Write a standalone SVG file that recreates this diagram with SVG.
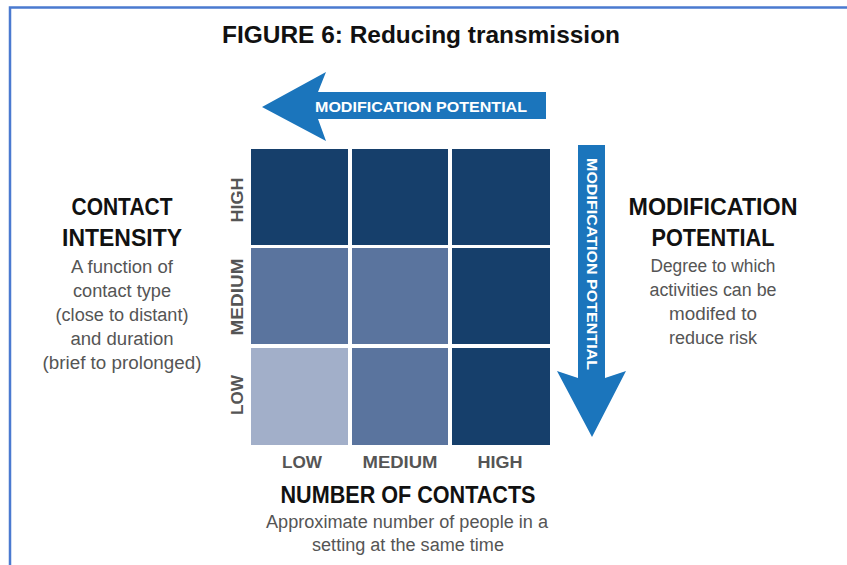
<svg xmlns="http://www.w3.org/2000/svg" width="847" height="565" viewBox="0 0 847 565">
<style>
.h{font-family:"Liberation Sans",Arial,sans-serif;font-weight:bold;fill:#111;text-anchor:middle}
.s{font-family:"Liberation Sans",Arial,sans-serif;fill:#555;text-anchor:middle;font-size:18px}
.ax{font-family:"Liberation Sans",Arial,sans-serif;font-weight:bold;fill:#555;text-anchor:middle;font-size:16px}
.ar{font-family:"Liberation Sans",Arial,sans-serif;font-weight:bold;fill:#fff;text-anchor:middle;font-size:14px}
.dk{fill:#163f6b}.md{fill:#5a749e}.lt{fill:#a2afc9}
.arrow{fill:#1b75bc}
</style>
<rect width="847" height="565" fill="#fff"/>
<g id="frame" fill="none" stroke="#4a7ad0" stroke-width="2.5">
<path d="M10,565 V7.5 H847"/>
</g>
<g id="title"><text class="h" x="421" y="43" font-size="24" textLength="398" lengthAdjust="spacingAndGlyphs">FIGURE 6: Reducing transmission</text></g>
<g id="connectors">
<g id="arrow-left">
<path class="arrow" d="M262,107 L326,72 L318,92 L546,92 L546,119 L318,119 L326,141 Z"/>
<text class="ar" x="421" y="112" textLength="212" lengthAdjust="spacingAndGlyphs">MODIFICATION POTENTIAL</text>
</g>
<g id="arrow-down">
<path class="arrow" d="M578,145 L605,145 L605,378 L626,371 L592,437 L557,371 L578,378 Z"/>
<text class="ar" transform="translate(591.5,264) rotate(90)" x="0" y="5" textLength="212" lengthAdjust="spacingAndGlyphs">MODIFICATION POTENTIAL</text>
</g>
</g>
<g id="grid">
<rect class="dk" x="251" y="149" width="97" height="96"/>
<rect class="dk" x="352" y="149" width="96" height="96"/>
<rect class="dk" x="452" y="149" width="98" height="96"/>
<rect class="md" x="251" y="248" width="97" height="96"/>
<rect class="md" x="352" y="248" width="96" height="96"/>
<rect class="dk" x="452" y="248" width="98" height="96"/>
<rect class="lt" x="251" y="348" width="97" height="97"/>
<rect class="md" x="352" y="348" width="96" height="97"/>
<rect class="dk" x="452" y="348" width="98" height="97"/>
</g>
<g id="row-labels">
<text class="ax" transform="translate(243,200) rotate(-90)" textLength="45" lengthAdjust="spacingAndGlyphs">HIGH</text>
<text class="ax" transform="translate(243,297) rotate(-90)" textLength="77" lengthAdjust="spacingAndGlyphs">MEDIUM</text>
<text class="ax" transform="translate(243,395) rotate(-90)" textLength="40" lengthAdjust="spacingAndGlyphs">LOW</text>
</g>
<g id="col-labels">
<text class="ax" x="302" y="468" textLength="40" lengthAdjust="spacingAndGlyphs">LOW</text>
<text class="ax" x="400" y="468" textLength="75" lengthAdjust="spacingAndGlyphs">MEDIUM</text>
<text class="ax" x="500" y="468" textLength="45" lengthAdjust="spacingAndGlyphs">HIGH</text>
</g>
<g id="contact-intensity">
<text class="h" x="122" y="215" font-size="24" textLength="101" lengthAdjust="spacingAndGlyphs">CONTACT</text>
<text class="h" x="122" y="246" font-size="24" textLength="120" lengthAdjust="spacingAndGlyphs">INTENSITY</text>
<text class="s" x="122" y="273" textLength="102" lengthAdjust="spacingAndGlyphs">A function of</text>
<text class="s" x="122" y="297" textLength="98" lengthAdjust="spacingAndGlyphs">contact type</text>
<text class="s" x="122" y="321" textLength="133" lengthAdjust="spacingAndGlyphs">(close to distant)</text>
<text class="s" x="122" y="345" textLength="103" lengthAdjust="spacingAndGlyphs">and duration</text>
<text class="s" x="122" y="369" textLength="159" lengthAdjust="spacingAndGlyphs">(brief to prolonged)</text>
</g>
<g id="modification-potential">
<text class="h" x="713" y="215" font-size="24" textLength="169" lengthAdjust="spacingAndGlyphs">MODIFICATION</text>
<text class="h" x="713" y="246" font-size="24" textLength="123" lengthAdjust="spacingAndGlyphs">POTENTIAL</text>
<text class="s" x="713" y="272" textLength="125" lengthAdjust="spacingAndGlyphs">Degree to which</text>
<text class="s" x="713" y="296" textLength="127" lengthAdjust="spacingAndGlyphs">activities can be</text>
<text class="s" x="713" y="320" textLength="88" lengthAdjust="spacingAndGlyphs">modifed to</text>
<text class="s" x="713" y="344" textLength="88" lengthAdjust="spacingAndGlyphs">reduce risk</text>
</g>
<g id="number-of-contacts">
<text class="h" x="408" y="503" font-size="24" textLength="255" lengthAdjust="spacingAndGlyphs">NUMBER OF CONTACTS</text>
<text class="s" x="407" y="528" textLength="282" lengthAdjust="spacingAndGlyphs">Approximate number of people in a</text>
<text class="s" x="408" y="551" textLength="192" lengthAdjust="spacingAndGlyphs">setting at the same time</text>
</g>
</svg>
